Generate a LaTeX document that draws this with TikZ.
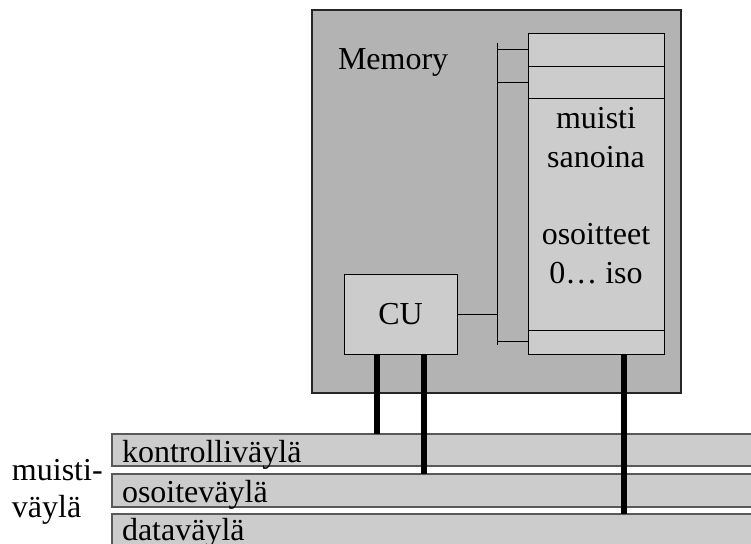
\documentclass[tikz,border=0pt]{standalone}
\usepackage{fontspec}
\setmainfont{Liberation Serif}
\definecolor{memgray}{HTML}{B3B3B3}
\definecolor{boxgray}{HTML}{CCCCCC}
\definecolor{linegray}{HTML}{595959}
\tikzset{
	membox/.style={draw=black!85, line width=1.2pt, fill=memgray, inner sep=0pt, outer sep=0pt, anchor=north west},
	unitbox/.style={draw=black, line width=1pt, fill=boxgray, inner sep=0pt, outer sep=0pt, anchor=north west},
	busbar/.style={draw=linegray, line width=1.2pt, fill=boxgray, inner sep=0pt, outer sep=0pt, anchor=north west},
	label/.style={font=\fontsize{32}{38}\selectfont, inner sep=0pt, outer sep=0pt},
	wire/.style={line width=1pt},
	thickwire/.style={line width=6pt},
}

\begin{document}
\begin{tikzpicture}[x=1pt, y=-1pt]
	\useasboundingbox (0,0) rectangle (751,543);
	\clip (0,0) rectangle (751,543);
	% memory unit
	\node[membox, minimum width=369pt, minimum height=383pt] (mem) at (312,10) {};
	\node[label, anchor=base west] (memlabel) at (338,70) {Memory};
	\node[unitbox, minimum width=136pt, minimum height=320pt] (words) at (528,34) {};
	\draw[wire] (words.west |- 0,66) -- (words.east |- 0,66);
	\draw[wire] (words.west |- 0,98) -- (words.east |- 0,98);
	\draw[wire] (words.west |- 0,330) -- (words.east |- 0,330);
	\node[label, anchor=base] (w1) at (596,128) {muisti};
	\node[label, anchor=base] (w2) at (596,167) {sanoina};
	\node[label, anchor=base] (w3) at (596,244) {osoitteet};
	\node[label, anchor=base] (w4) at (596,283) {0… iso};
	\node[unitbox, minimum width=113pt, minimum height=80pt, label, anchor=north west] (cu) at (344,274) {CU};
	% internal bus
	\coordinate (bustop) at (497,43);
	\coordinate (busbot) at (497,345);
	\draw[wire] (bustop) -- (busbot);
	\draw[wire] (bustop |- 0,50) -- (words.west |- 0,50);
	\draw[wire] (bustop |- 0,82) -- (words.west |- 0,82);
	\draw[wire] (bustop |- 0,341) -- (words.west |- 0,341);
	\draw[wire] (cu.east |- 0,314) -- (bustop |- 0,314);
	% memory bus
	\node[busbar, minimum width=660pt, minimum height=32pt] (ctrl) at (112,434) {};
	\node[busbar, minimum width=660pt, minimum height=33pt] (addr) at (112,474) {};
	\node[busbar, minimum width=660pt, minimum height=50pt] (data) at (112,514) {};
	\node[label, anchor=base west] (ctrltext) at (122,462) {kontrolliväylä};
	\node[label, anchor=base west] (addrtext) at (122,502) {osoiteväylä};
	\node[label, anchor=base west] (datatext) at (122,540) {dataväylä};
	\node[label, anchor=base west] (bus1) at (12,480) {muisti-};
	\node[label, anchor=base west] (bus2) at (12,517) {väylä};
	% connections
	\draw[thickwire] (cu.south -| 377,0) -- (ctrl.north -| 377,0);
	\draw[thickwire] (cu.south -| 424,0) -- (addr.north -| 424,0);
	\draw[thickwire] (words.south -| 624,0) -- (data.north -| 624,0);
\end{tikzpicture}
\end{document}
